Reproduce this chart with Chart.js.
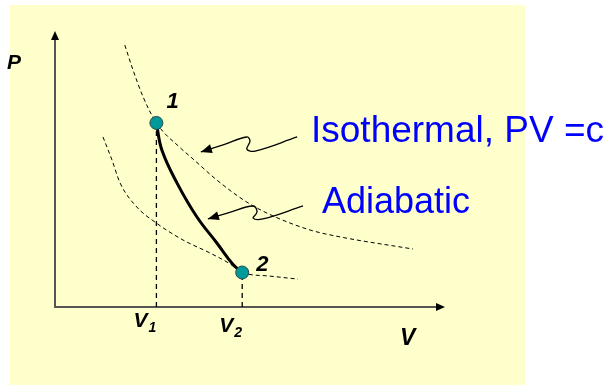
<!DOCTYPE html>
<html>
<head>
<meta charset="utf-8">
<script src="https://cdn.jsdelivr.net/npm/chart.js@4"></script>
<style>
  html, body { margin: 0; padding: 0; background: #fff; }
  canvas { display: block; }
</style>
</head>
<body>
<canvas id="chart" width="607" height="386"></canvas>
<script>
// the two states (arbitrary V, P units)
const V1 = 2.6, P1 = 6.67
const V2 = 4.8, P2 = 1.25

// curves, [V, P]
const isothermHigh = [[1.79, 9.49], [2.0, 8.59], [2.26, 7.61], [2.6, 6.67], [3.25, 5.72],
  [3.51, 5.40], [4.15, 4.60], [4.92, 3.80], [5.59, 3.30], [6.54, 2.79], [7.31, 2.54], [9.18, 2.10]]
const isothermLow = [[1.23, 6.16], [1.46, 5.33], [1.67, 4.49], [2.10, 3.62], [2.6, 3.04],
  [3.28, 2.43], [3.97, 1.96], [4.49, 1.56], [4.8, 1.25], [5.51, 1.12], [6.23, 1.01]]
const adiabat = [[2.6, 6.67], [2.74, 5.69], [3.13, 4.49], [3.64, 3.26],
  [4.15, 2.32], [4.56, 1.55], [4.8, 1.25]]

// squiggly pointers, tip first
const isoPointer = [[3.74, 5.62], [4.31, 5.87], [4.92, 6.16], [5.0, 6.01], [4.92, 5.72],
  [5.13, 5.65], [6.21, 6.16]]
const adiPointer = [[3.92, 3.19], [4.44, 3.41], [5.08, 3.66], [5.18, 3.44], [5.08, 3.22],
  [5.33, 3.19], [6.36, 3.66]]

const toXY = arr => arr.map(([x, y]) => ({ x, y }))

const FONT = '"Liberation Sans", Arial, sans-serif'

function arrowHead(ctx, x, y, ang, len, half) {
  ctx.save()
  ctx.translate(x, y)
  ctx.rotate(ang)
  ctx.beginPath()
  ctx.moveTo(0, 0)
  ctx.lineTo(-len, -half)
  ctx.lineTo(-len, half)
  ctx.closePath()
  ctx.fillStyle = '#000'
  ctx.fill()
  ctx.restore()
}

const decor = {
  id: 'decor',
  beforeDraw(chart) {
    const ctx = chart.ctx
    ctx.save()
    ctx.fillStyle = '#ffffcc'
    ctx.fillRect(10, 5, 515, 380)
    ctx.restore()
  },
  beforeDatasetsDraw(chart) {
    const { ctx, scales: { x, y } } = chart
    const ox = x.getPixelForValue(0), oy = y.getPixelForValue(0)
    const tx = x.getPixelForValue(x.max), ty = y.getPixelForValue(y.max)
    ctx.save()
    ctx.strokeStyle = '#555'
    ctx.lineWidth = 2
    ctx.beginPath()
    ctx.moveTo(ox, ty + 8)
    ctx.lineTo(ox, oy)
    ctx.lineTo(tx - 8, oy)
    ctx.stroke()
    arrowHead(ctx, ox, ty, -Math.PI / 2, 9, 4)
    arrowHead(ctx, tx, oy, 0, 9, 4)
    ctx.restore()
  },
  afterDatasetsDraw(chart) {
    const { ctx, scales: { x, y } } = chart
    ctx.save()
    for (const p of [isoPointer, adiPointer]) {
      const x0 = x.getPixelForValue(p[0][0]), y0 = y.getPixelForValue(p[0][1])
      const x1 = x.getPixelForValue(p[1][0]), y1 = y.getPixelForValue(p[1][1])
      arrowHead(ctx, x0, y0, Math.atan2(y0 - y1, x0 - x1), 11, 4.5)
    }

    ctx.fillStyle = '#000'
    ctx.textBaseline = 'alphabetic'
    ctx.font = 'bold italic 21px ' + FONT
    ctx.fillText('P', 7, 69)
    ctx.font = 'bold italic 23px ' + FONT
    ctx.fillText('V', 400, 345)

    ctx.font = 'bold italic 22px ' + FONT
    ctx.fillText('1', x.getPixelForValue(V1) + 10, y.getPixelForValue(P1) - 15)
    ctx.fillText('2', x.getPixelForValue(V2) + 14, y.getPixelForValue(P2) - 2)

    const sub = [[V1, '1', 327], [V2, '2', 332]]
    for (const [v, s, base] of sub) {
      const px = x.getPixelForValue(v)
      ctx.font = 'bold italic 21px ' + FONT
      ctx.fillText('V', px - 23, base)
      ctx.font = 'bold italic 14px ' + FONT
      ctx.fillText(s, px - 8, base + 5)
    }

    ctx.fillStyle = '#0000ff'
    ctx.font = '37px ' + FONT
    ctx.fillText('Isothermal, PV =c', 311, 142)
    ctx.font = '36px ' + FONT
    ctx.fillText('Adiabatic', 322, 213)
    ctx.restore()
  }
}

const dashed = { borderColor: '#000', borderWidth: 1, borderDash: [4, 3], pointRadius: 0, fill: false }

new Chart(document.getElementById('chart'), {
  type: 'scatter',
  data: {
    datasets: [
      {
        data: [{ x: V1, y: P1 }, { x: V2, y: P2 }],
        pointRadius: 6.5, pointBackgroundColor: '#009999', pointBorderColor: '#2a4a4a',
        pointBorderWidth: 1, showLine: false, order: 0
      },
      { ...dashed, data: toXY(isothermHigh), showLine: true, cubicInterpolationMode: 'monotone', order: 2 },
      { ...dashed, data: toXY(isothermLow), showLine: true, cubicInterpolationMode: 'monotone', order: 2 },
      { ...dashed, data: [{ x: V1, y: 0 }, { x: V1, y: P1 }], showLine: true, borderDash: [5, 4], borderWidth: 1.3, order: 2 },
      { ...dashed, data: [{ x: V2, y: 0 }, { x: V2, y: P2 }], showLine: true, borderDash: [5, 4], borderWidth: 1.3, order: 2 },
      { data: toXY(adiabat), showLine: true, borderColor: '#000', borderWidth: 3, pointRadius: 0,
        tension: 0.4, order: 1 },
      { data: toXY(isoPointer), showLine: true, borderColor: '#000', borderWidth: 1.3, pointRadius: 0,
        tension: 0.4, order: 1 },
      { data: toXY(adiPointer), showLine: true, borderColor: '#000', borderWidth: 1.3, pointRadius: 0,
        tension: 0.4, order: 1 }
    ]
  },
  options: {
    responsive: false,
    animation: false,
    clip: false,
    layout: { padding: { left: 55, right: 162, top: 31, bottom: 79 } },
    scales: {
      x: { type: 'linear', min: 0, max: 10, display: false },
      y: { type: 'linear', min: 0, max: 10, display: false }
    },
    plugins: {
      legend: { display: false },
      tooltip: { enabled: false }
    }
  },
  plugins: [decor]
})
</script>
</body>
</html>
